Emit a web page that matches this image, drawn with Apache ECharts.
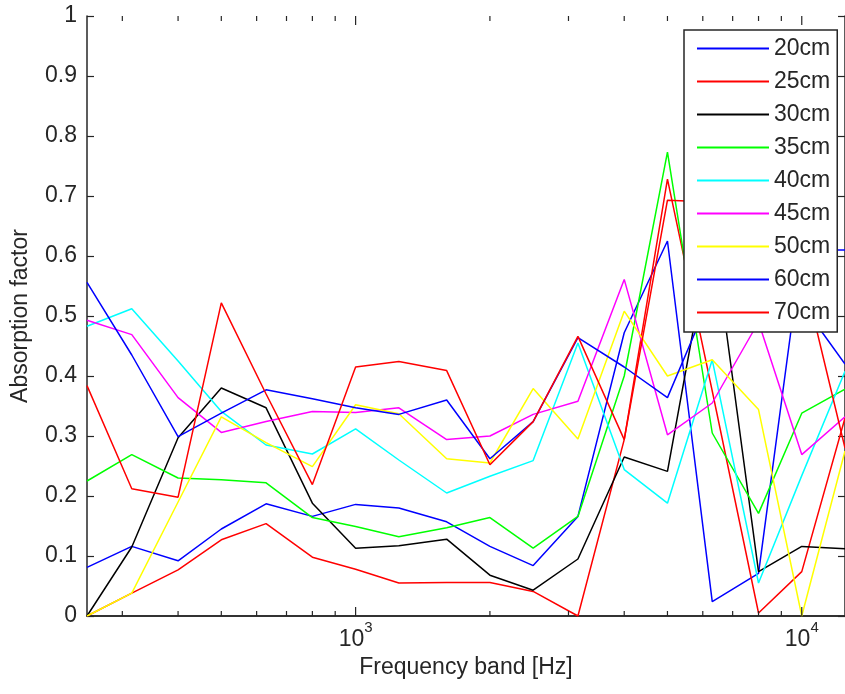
<!DOCTYPE html>
<html>
<head>
<meta charset="utf-8">
<script src="https://cdn.jsdelivr.net/npm/echarts@6/dist/echarts.min.js"></script>
<style>
  html, body { margin: 0; padding: 0; background: #ffffff; }
  #chart { width: 845px; height: 694px; }
</style>
</head>
<body>
<div id="chart"></div>
<script>
// One-third-octave band centre frequencies [Hz]
const freqs = [250, 315, 400, 500, 630, 800, 1000, 1250, 1600, 2000, 2500, 3150, 4000, 5000, 6300, 8000, 10000, 12500];

// Absorption factor per air-gap depth
const gap20 = [0.081, 0.116, 0.092, 0.145, 0.187, 0.166, 0.186, 0.180, 0.157, 0.116, 0.084, 0.166, 0.472, 0.625, 0.024, 0.071, 0.610, 0.610];
const gap25 = [0.000, 0.038, 0.077, 0.127, 0.154, 0.098, 0.078, 0.055, 0.056, 0.056, 0.041, 0.000, 0.294, 0.728, 0.375, 0.005, 0.074, 0.330];
const gap30 = [0.000, 0.115, 0.297, 0.380, 0.347, 0.188, 0.113, 0.117, 0.128, 0.068, 0.043, 0.095, 0.265, 0.241, 0.650, 0.074, 0.116, 0.112];
const gap35 = [0.225, 0.269, 0.230, 0.227, 0.222, 0.164, 0.149, 0.132, 0.147, 0.164, 0.113, 0.166, 0.400, 0.773, 0.305, 0.171, 0.338, 0.378];
const gap40 = [0.483, 0.512, 0.425, 0.341, 0.285, 0.270, 0.312, 0.260, 0.205, 0.233, 0.259, 0.455, 0.244, 0.188, 0.427, 0.055, 0.234, 0.408];
const gap45 = [0.493, 0.469, 0.364, 0.306, 0.324, 0.341, 0.339, 0.347, 0.294, 0.300, 0.336, 0.358, 0.561, 0.302, 0.355, 0.490, 0.269, 0.332];
const gap50 = [0.000, 0.038, 0.190, 0.332, 0.289, 0.249, 0.352, 0.337, 0.262, 0.255, 0.379, 0.295, 0.508, 0.400, 0.427, 0.344, 0.000, 0.275];
const gap60 = [0.556, 0.435, 0.299, 0.338, 0.377, 0.362, 0.347, 0.336, 0.360, 0.262, 0.324, 0.464, 0.415, 0.364, 0.540, 0.500, 0.520, 0.420];
const gap70 = [0.384, 0.212, 0.198, 0.522, 0.370, 0.219, 0.415, 0.424, 0.409, 0.252, 0.324, 0.466, 0.294, 0.693, 0.690, 0.550, 0.580, 0.280];

const seriesNames = ['20cm', '25cm', '30cm', '35cm', '40cm', '45cm', '50cm', '60cm', '70cm'];
const seriesValues = [gap20, gap25, gap30, gap35, gap40, gap45, gap50, gap60, gap70];

// Tick marks of the logarithmic frequency axis
const majorTickFreqs = [1000, 10000];
const minorTickFreqs = [300, 400, 500, 600, 700, 800, 900, 2000, 3000, 4000, 5000, 6000, 7000, 8000, 9000];

// Classic plot colour cycle: b r k g c m y, then b r again
const lineColors = ['#0000ff', '#ff0000', '#000000', '#00ff00', '#00ffff', '#ff00ff', '#ffff00', '#0000ff', '#ff0000'];

const axisColor = '#262626';
const textColor = '#262626';
const fontFamily = '"Liberation Sans", Arial, sans-serif';
const fontSize = 23;

const chart = echarts.init(document.getElementById('chart'), null, { renderer: 'canvas' });

function tickRenderer(len) {
  return function (params, api) {
    const f = api.value(0);
    const bottom = api.coord([f, 0]);
    const top = api.coord([f, 1]);
    const style = { stroke: axisColor, lineWidth: 1.2 };
    return {
      type: 'group',
      children: [
        { type: 'line', shape: { x1: bottom[0], y1: bottom[1], x2: bottom[0], y2: bottom[1] - len }, style: style },
        { type: 'line', shape: { x1: top[0], y1: top[1], x2: top[0], y2: top[1] + len }, style: style }
      ]
    };
  };
}

const lineSeries = seriesNames.map(function (name, i) {
  return {
    name: name,
    type: 'line',
    symbol: 'none',
    showSymbol: false,
    clip: true,
    animation: false,
    color: lineColors[i],
    itemStyle: { color: lineColors[i] },
    lineStyle: { color: lineColors[i], width: 1.5 },
    data: freqs.map(function (f, j) { return [f, seriesValues[i][j]]; })
  };
});

const option = {
  animation: false,
  backgroundColor: '#ffffff',
  textStyle: { fontFamily: fontFamily },
  grid: { left: 87, top: 16, width: 762, height: 600, containLabel: false },
  xAxis: [
    {
      type: 'log',
      logBase: 10,
      min: 250,
      max: 12500,
      position: 'bottom',
      name: 'Frequency band [Hz]',
      nameLocation: 'middle',
      nameGap: 38,
      nameTextStyle: { fontSize: fontSize, color: textColor, fontFamily: fontFamily },
      axisLine: { show: true, lineStyle: { color: axisColor, width: 1.5 } },
      axisTick: { show: false },
      splitLine: { show: false },
      minorTick: { show: false },
      axisLabel: {
        show: true,
        margin: 4,
        showMinLabel: false,
        showMaxLabel: false,
        formatter: function (v) {
          const e = Math.log10(v);
          if (Math.abs(e - Math.round(e)) < 1e-6) {
            return '{b|10}{s|' + Math.round(e) + '}';
          }
          return '';
        },
        rich: {
          b: { fontSize: fontSize, color: textColor, fontFamily: fontFamily, padding: [8, 0, 0, 0], verticalAlign: 'bottom' },
          s: { fontSize: 15, color: textColor, fontFamily: fontFamily, verticalAlign: 'top' }
        }
      }
    },
    {
      type: 'log',
      logBase: 10,
      min: 250,
      max: 12500,
      position: 'top',
      axisLine: { show: true, lineStyle: { color: axisColor, width: 1.5 } },
      axisTick: { show: false },
      axisLabel: { show: false },
      splitLine: { show: false }
    }
  ],
  yAxis: [
    {
      type: 'value',
      min: 0,
      max: 1,
      interval: 0.1,
      position: 'left',
      name: 'Absorption factor',
      nameLocation: 'middle',
      nameGap: 55,
      nameTextStyle: { fontSize: fontSize, color: textColor, fontFamily: fontFamily },
      axisLine: { show: true, lineStyle: { color: axisColor, width: 1.5 } },
      axisTick: { show: true, inside: true, length: 7, lineStyle: { color: axisColor, width: 1.2 } },
      axisLabel: { margin: 10, fontSize: fontSize, color: textColor, fontFamily: fontFamily },
      splitLine: { show: false }
    },
    {
      type: 'value',
      min: 0,
      max: 1,
      interval: 0.1,
      position: 'right',
      axisLine: { show: true, lineStyle: { color: axisColor, width: 1.5 } },
      axisTick: { show: true, inside: true, length: 7, lineStyle: { color: axisColor, width: 1.2 } },
      axisLabel: { show: false },
      splitLine: { show: false }
    }
  ],
  legend: {
    show: true,
    orient: 'vertical',
    left: 684,
    top: 30,
    data: seriesNames.map(function (n) { return { name: n, icon: 'rect' }; }),
    itemWidth: 72,
    itemHeight: 2,
    itemGap: 10,
    padding: [7, 7, 8, 13],
    backgroundColor: '#ffffff',
    borderColor: axisColor,
    borderWidth: 1.5,
    borderRadius: 0,
    selectedMode: false,
    itemStyle: { borderWidth: 0 },
    lineStyle: { width: 0 },
    textStyle: { fontSize: fontSize, color: textColor, fontFamily: fontFamily, lineHeight: 23 }
  },
  series: lineSeries.concat([
    {
      type: 'custom',
      name: 'minorTicks',
      silent: true,
      clip: false,
      animation: false,
      renderItem: tickRenderer(5),
      encode: { x: 0, y: 1 },
      data: minorTickFreqs.map(function (f) { return [f, 0]; }),
      z: 5
    },
    {
      type: 'custom',
      name: 'majorTicks',
      silent: true,
      clip: false,
      animation: false,
      renderItem: tickRenderer(9),
      encode: { x: 0, y: 1 },
      data: majorTickFreqs.map(function (f) { return [f, 0]; }),
      z: 5
    }
  ])
};

chart.setOption(option);
</script>
</body>
</html>
